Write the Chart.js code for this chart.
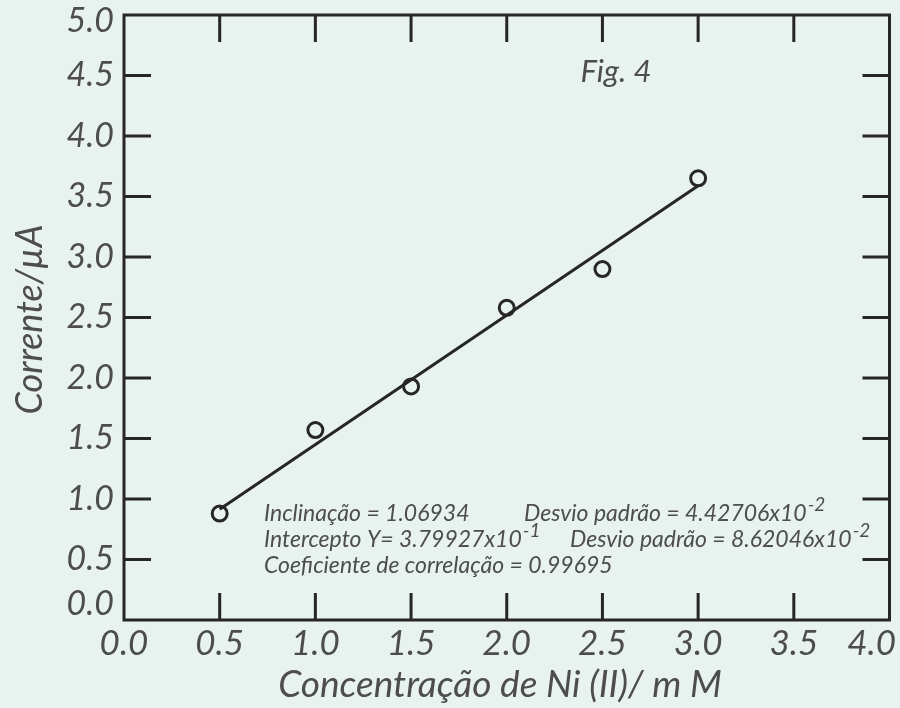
<!DOCTYPE html>
<html lang="pt">
<head>
<meta charset="utf-8">
<title>Fig. 4</title>
<script src="https://cdn.jsdelivr.net/npm/chart.js@4.4.1/dist/chart.umd.min.js"></script>
<style>
    html, body { margin: 0; padding: 0; background: #e8f2ee; }
    #grafico { display: block; }
</style>
</head>
<body>
<canvas id="grafico" width="900" height="708"></canvas>
<script>
// Dados
const concentracao = [0.5, 1.0, 1.5, 2.0, 2.5, 3.0];
const corrente = [0.88, 1.57, 1.93, 2.58, 2.90, 3.65];

// Reta ajustada (extremos)
const ajusteX = [0.5, 3.0];
const ajusteY = [0.915, 3.588];

const xTicks = [0.0, 0.5, 1.0, 1.5, 2.0, 2.5, 3.0, 3.5, 4.0];
const yTicks = [0.0, 0.5, 1.0, 1.5, 2.0, 2.5, 3.0, 3.5, 4.0, 4.5, 5.0];

const tituloX = 'Concentração de Ni (II)/ m M';
const tituloY = 'Corrente/µA';
const tituloFig = 'Fig. 4';

// Texto da regressao: [texto, expoente]
const linha1a = ['Inclinação = 1.06934', ''];
const linha1b = ['Desvio padrão = 4.42706x10', '-2'];
const linha2a = ['Intercepto Y= 3.79927x10', '-1'];
const linha2b = ['Desvio padrão = 8.62046x10', '-2'];
const linha3 = ['Coeficiente de correlação = 0.99695', ''];

const corLinha = '#262626';
const corTexto = '#4d4d4d';

document.addEventListener('DOMContentLoaded', function() {
    const ctx = document.getElementById('grafico').getContext('2d');

    function textoComExpoente(c, parte, x, y, fonte, fonteSup) {
        c.font = fonte;
        c.fillText(parte[0], x, y);
        if (parte[1]) {
            const w = c.measureText(parte[0]).width;
            c.font = fonteSup;
            c.fillText(parte[1], x + w + 1, y - 10);
        }
    }

    // Moldura, marcas internas e textos
    const moldura = {
        id: 'moldura',
        afterDraw(chart) {
            const c = chart.ctx;
            const area = chart.chartArea;
            const sx = chart.scales.x;
            const sy = chart.scales.y;
            const tam = 27;

            c.save();
            c.strokeStyle = corLinha;
            c.lineWidth = 3;
            c.strokeRect(area.left, area.top, area.right - area.left, area.bottom - area.top);

            c.beginPath();
            xTicks.slice(1, -1).forEach(v => {
                const px = sx.getPixelForValue(v);
                c.moveTo(px, area.bottom);
                c.lineTo(px, area.bottom - tam);
                c.moveTo(px, area.top);
                c.lineTo(px, area.top + tam);
            });
            yTicks.slice(1, -1).forEach(v => {
                const py = sy.getPixelForValue(v);
                c.moveTo(area.left, py);
                c.lineTo(area.left + tam, py);
                c.moveTo(area.right, py);
                c.lineTo(area.right - tam, py);
            });
            c.stroke();

            // Rotulos dos eixos
            c.fillStyle = corTexto;
            c.font = 'italic 34px Lato';
            c.textBaseline = 'middle';
            c.textAlign = 'right';
            yTicks.forEach((v, i) => {
                let py = sy.getPixelForValue(v);
                if (i === 0) py -= 16;
                if (i === yTicks.length - 1) py += 6;
                c.fillText(v.toFixed(1), 114, py);
            });
            c.textAlign = 'center';
            c.font = 'italic 35px Lato';
            xTicks.forEach(v => {
                let px = sx.getPixelForValue(v);
                const w = c.measureText(v.toFixed(1)).width;
                if (px + w / 2 > chart.width - 4) px = chart.width - 4 - w / 2;
                c.fillText(v.toFixed(1), px, area.bottom + 24);
            });

            // Titulos
            c.textBaseline = 'alphabetic';
            c.font = 'italic 37px Lato';
            c.fillText(tituloX, 500, 697);

            c.save();
            c.translate(42, (area.top + area.bottom) / 2 + 2);
            c.rotate(-Math.PI / 2);
            c.font = 'italic 36px Lato';
            c.fillText(tituloY, 0, 0);
            c.restore();

            c.font = 'italic 31px Lato';
            c.fillText(tituloFig, 616, 82);

            // Texto da regressao
            c.textAlign = 'left';
            const f = 'italic 23px Lato';
            const fs = 'italic 19px Lato';
            textoComExpoente(c, linha1a, 264, 521, f, fs);
            textoComExpoente(c, linha1b, 524, 521, f, fs);
            textoComExpoente(c, linha2a, 264, 547, f, fs);
            textoComExpoente(c, linha2b, 570, 547, f, fs);
            textoComExpoente(c, linha3, 264, 573, f, fs);
            c.restore();
        }
    };

    const chart = new Chart(ctx, {
        type: 'scatter',
        data: {
            datasets: [{
                label: 'Corrente',
                data: concentracao.map((x, i) => ({ x: x, y: corrente[i] })),
                pointStyle: 'circle',
                pointRadius: 7.5,
                pointBorderWidth: 3,
                borderColor: corLinha,
                backgroundColor: 'rgba(0,0,0,0)',
                showLine: false
            }, {
                label: 'Ajuste',
                type: 'line',
                data: ajusteX.map((x, i) => ({ x: x, y: ajusteY[i] })),
                borderColor: corLinha,
                borderWidth: 3,
                pointRadius: 0,
                fill: false
            }]
        },
        options: {
            responsive: false,
            animation: false,
            layout: { padding: { top: 15, right: 9, left: 0, bottom: 0 } },
            plugins: {
                legend: { display: false },
                tooltip: { enabled: false }
            },
            scales: {
                x: {
                    type: 'linear',
                    min: 0,
                    max: 4,
                    ticks: { display: false, stepSize: 0.5 },
                    grid: { display: false },
                    border: { display: false },
                    afterFit: function(scale) { scale.height = 88; }
                },
                y: {
                    type: 'linear',
                    min: 0,
                    max: 5,
                    ticks: { display: false, stepSize: 0.5 },
                    grid: { display: false },
                    border: { display: false },
                    afterFit: function(scale) { scale.width = 124; }
                }
            }
        },
        plugins: [moldura]
    });
});
</script>
</body>
</html>
